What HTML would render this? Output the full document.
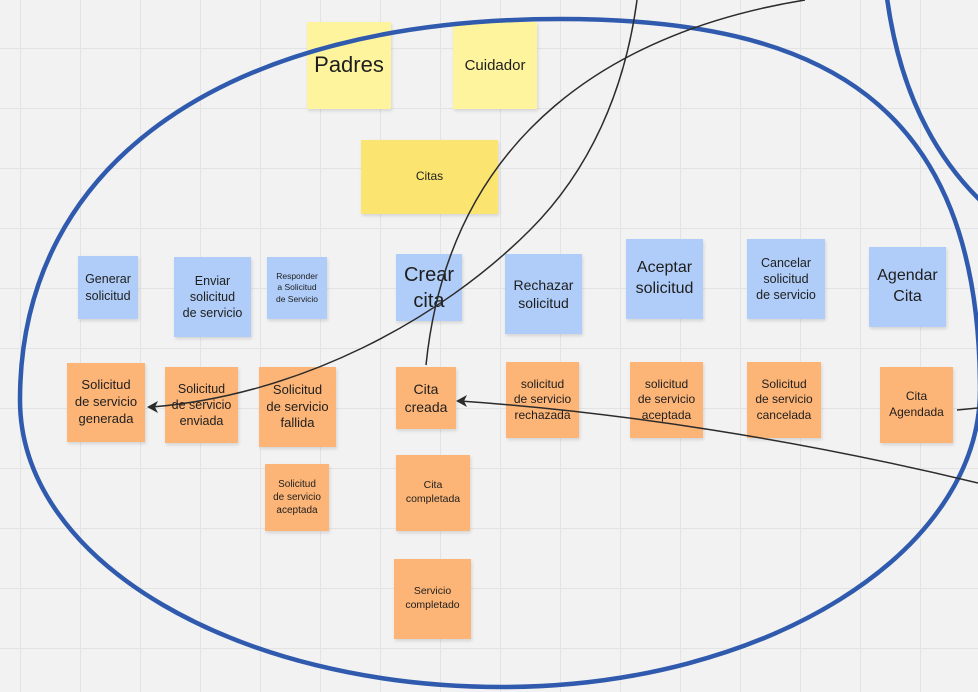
<!DOCTYPE html>
<html><head><meta charset="utf-8"><style>
html,body{margin:0;padding:0}
body{width:978px;height:692px;overflow:hidden;position:relative;background:#f2f2f2;font-family:"Liberation Sans","DejaVu Sans",sans-serif;
background-image:linear-gradient(to right,#e3e3e3 1px,transparent 1px),linear-gradient(to bottom,#e3e3e3 1px,transparent 1px);
background-size:60px 60px;background-position:20px 48px;}
.n{position:absolute;display:flex;align-items:center;justify-content:center;text-align:center;color:#1e1e1e;box-shadow:1px 2px 3px rgba(0,0,0,0.12);line-height:1.3;box-sizing:border-box;padding:0;white-space:nowrap}
.y{background:#fdf49d}.yd{background:#fbe46f}.b{background:#afcdf8}.o{background:#fdb577}
svg{position:absolute;left:0;top:0}
</style></head><body>
<div class="n y" style="left:307px;top:22px;width:84px;height:87px;font-size:22px">Padres</div>
<div class="n y" style="left:453px;top:22px;width:84px;height:87px;font-size:15px">Cuidador</div>
<div class="n yd" style="left:361px;top:140px;width:137px;height:74px;font-size:12px">Citas</div>

<div class="n b" style="left:78px;top:256px;width:60px;height:63px;font-size:12.5px">Generar<br>solicitud</div>
<div class="n b" style="left:174px;top:257px;width:77px;height:80px;font-size:12.5px">Enviar<br>solicitud<br>de servicio</div>
<div class="n b" style="left:267px;top:257px;width:60px;height:62px;font-size:8.5px">Responder<br>a Solicitud<br>de Servicio</div>
<div class="n b" style="left:396px;top:254px;width:66px;height:67px;font-size:20px">Crear<br>cita</div>
<div class="n b" style="left:505px;top:254px;width:77px;height:80px;font-size:14px">Rechazar<br>solicitud</div>
<div class="n b" style="left:626px;top:239px;width:77px;height:80px;font-size:16px">Aceptar<br>solicitud</div>
<div class="n b" style="left:747px;top:239px;width:78px;height:80px;font-size:12.5px">Cancelar<br>solicitud<br>de servicio</div>
<div class="n b" style="left:869px;top:247px;width:77px;height:80px;font-size:16px">Agendar<br>Cita</div>

<div class="n o" style="left:67px;top:363px;width:78px;height:79px;font-size:13px">Solicitud<br>de servicio<br>generada</div>
<div class="n o" style="left:165px;top:367px;width:73px;height:76px;font-size:12.5px">Solicitud<br>de servicio<br>enviada</div>
<div class="n o" style="left:259px;top:367px;width:77px;height:80px;font-size:13px">Solicitud<br>de servicio<br>fallida</div>
<div class="n o" style="left:396px;top:367px;width:60px;height:62px;font-size:14px">Cita<br>creada</div>
<div class="n o" style="left:506px;top:362px;width:73px;height:76px;font-size:12px">solicitud<br>de servicio<br>rechazada</div>
<div class="n o" style="left:630px;top:362px;width:73px;height:76px;font-size:12px">solicitud<br>de servicio<br>aceptada</div>
<div class="n o" style="left:747px;top:362px;width:74px;height:76px;font-size:12px">Solicitud<br>de servicio<br>cancelada</div>
<div class="n o" style="left:880px;top:367px;width:73px;height:76px;font-size:12px">Cita<br>Agendada</div>
<div class="n o" style="left:265px;top:464px;width:64px;height:67px;font-size:10px">Solicitud<br>de servicio<br>aceptada</div>
<div class="n o" style="left:396px;top:455px;width:74px;height:76px;font-size:10.5px">Cita<br>completada</div>
<div class="n o" style="left:394px;top:559px;width:77px;height:80px;font-size:10.5px">Servicio<br>completado</div>

<svg width="978" height="692" viewBox="0 0 978 692">
<g fill="none" stroke="#2f5aad" stroke-width="4.5">
<path d="M20,400 C20,160 230,19 560,19 C820,19 980,100 980,390 C980,553 765,687 502,687 C239,687 20,563 20,400 Z"/>
<path d="M887,-2 Q905,130 985,205"/>
</g>
<g fill="none" stroke="#2b2b2b" stroke-width="1.5">
<path d="M805,0 C620,30 450,130 426,365"/>
<path d="M637,0 C625,90 590,170 530,230 C440,320 300,395 152,407"/>
<path d="M978,483 C800,440 620,412 460,401"/>
<path d="M957,410 L978,408"/>
</g>
<g fill="#2b2b2b">
<path d="M147,407 L158,401 L155,407 L158,413 Z"/>
<path d="M456,401 L467,395 L464,401 L467,407 Z"/>
</g>
</svg>
</body></html>
